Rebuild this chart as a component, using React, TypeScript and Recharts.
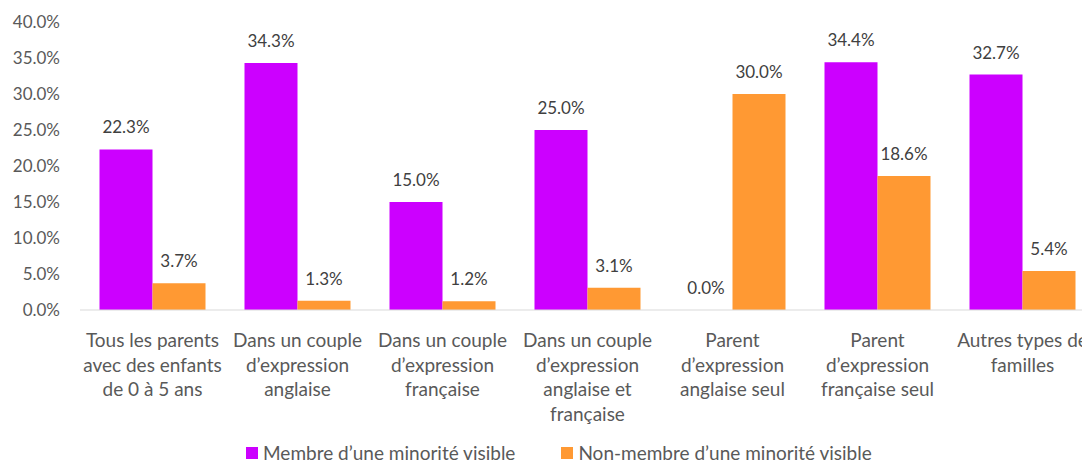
import React from "react";
import { BarChart, Bar, XAxis, YAxis, LabelList } from "recharts";

const categories = [
  ["Tous les parents", "avec des enfants", "de 0 à 5 ans"],
  ["Dans un couple", "d’expression", "anglaise"],
  ["Dans un couple", "d’expression", "française"],
  ["Dans un couple", "d’expression", "anglaise et", "française"],
  ["Parent", "d’expression", "anglaise seul"],
  ["Parent", "d’expression", "française seul"],
  ["Autres types de", "familles"],
];
const membre = [22.3, 34.3, 15.0, 25.0, 0.0, 34.4, 32.7];
const nonMembre = [3.7, 1.3, 1.2, 3.1, 30.0, 18.6, 5.4];
const yTicks = [0, 5, 10, 15, 20, 25, 30, 35, 40];

const seriesNames = ["Membre d’une minorité visible", "Non-membre d’une minorité visible"];
const colors = ["#CC00FF", "#FF9933"];

const data = categories.map((lines, i) => ({
  name: lines.join(" "),
  membre: membre[i],
  nonMembre: nonMembre[i],
}));

const FONT = "Lato, 'Noto Sans', sans-serif";

function CategoryTick({ x, y, payload }: any) {
  const lines = categories[payload.index] ?? [payload.value];
  return (
    <text x={x} y={y} textAnchor="middle" fill="#595959" fontSize={19} fontFamily={FONT}>
      {lines.map((l, i) => (
        <tspan key={i} x={x} y={y + 29 + i * 24.5}>
          {l}
        </tspan>
      ))}
    </text>
  );
}

function ValueLabel({ x, y, width, value }: any) {
  return (
    <text
      x={x + width / 2}
      y={y - 16}
      textAnchor="middle"
      fill="#404040"
      fontSize={17}
      fontFamily={FONT}
    >
      {Number(value).toFixed(1)}%
    </text>
  );
}

export default function App() {
  return (
    <div
      style={{
        position: "absolute",
        left: 0,
        top: 0,
        width: 1082,
        height: 464,
        overflow: "hidden",
        background: "#fff",
        fontFamily: FONT,
      }}
    >
      <BarChart
        width={1100}
        height={464}
        data={data}
        margin={{ top: 22, right: 5, bottom: 34, left: 0 }}
        barCategoryGap={19.5}
        barGap={0}
      >
        <XAxis
          dataKey="name"
          height={120}
          interval={0}
          tickLine={false}
          axisLine={{ stroke: "#D9D9D9" }}
          tick={<CategoryTick />}
        />
        <YAxis
          width={80}
          domain={[0, 40]}
          ticks={yTicks}
          axisLine={false}
          tickLine={false}
          tickSize={0}
          tickMargin={20}
          tickFormatter={(v) => `${v.toFixed(1)}%`}
          tick={{ fill: "#595959", fontSize: 17, fontFamily: FONT }}
        />
        <Bar dataKey="membre" fill={colors[0]} minPointSize={0.01} isAnimationActive={false}>
          <LabelList dataKey="membre" content={<ValueLabel />} />
        </Bar>
        <Bar dataKey="nonMembre" fill={colors[1]} isAnimationActive={false}>
          <LabelList dataKey="nonMembre" content={<ValueLabel />} />
        </Bar>
      </BarChart>
      <div
        style={{
          position: "absolute",
          top: 443,
          left: 246,
          display: "flex",
          alignItems: "center",
          fontSize: 19,
          color: "#595959",
          lineHeight: "19px",
        }}
      >
        {seriesNames.map((n, i) => (
          <div key={n} style={{ display: "flex", alignItems: "center", marginRight: i === 0 ? 46 : 0 }}>
            <span style={{ width: 12, height: 12, background: colors[i], marginRight: 5, display: "inline-block" }} />
            <span>{n}</span>
          </div>
        ))}
      </div>
    </div>
  );
}
